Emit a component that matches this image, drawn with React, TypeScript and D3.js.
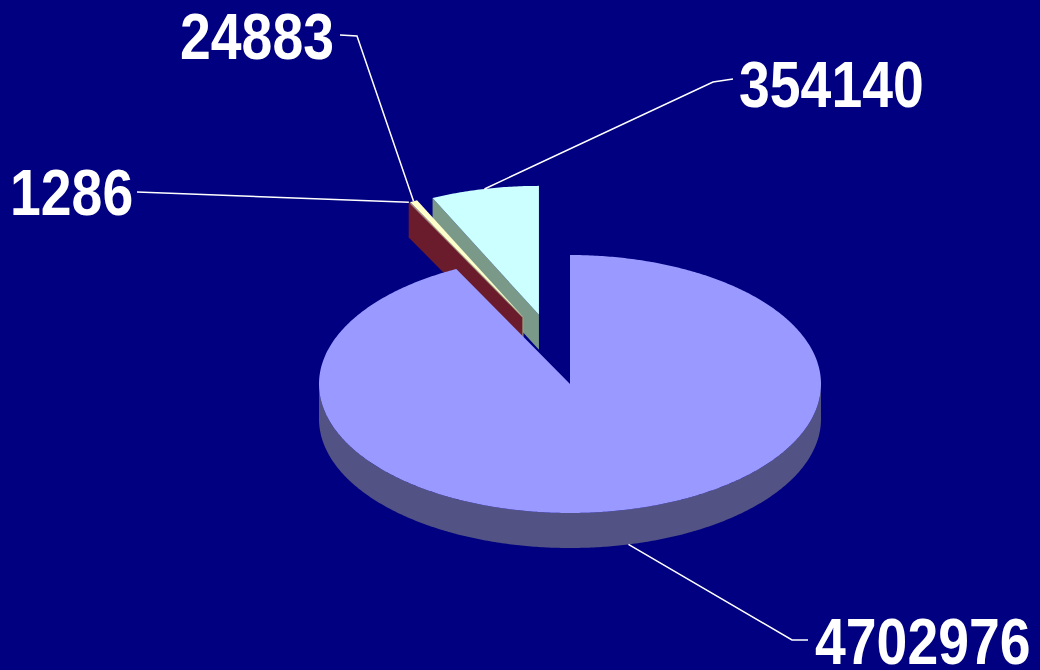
import React from "react";
import * as d3 from "d3";

// ---- data ----
const values: number[] = [4702976, 1286, 24883, 354140];
const labels: string[] = ["4702976", "1286", "24883", "354140"];
const topColors: string[] = ["#9999FF", "#993366", "#FFFFCC", "#CCFFFF"];
const sideColors: string[] = ["#525285", "#6a1c2c", "#a3a383", "#7a9988"];
const explode: number[] = [0, 0.55, 0.55, 0.55];

// ---- layout ----
const W = 1040;
const H = 670;
const CX = 570;
const CY = 384;
const RX = 251;
const RY = 129;
const DEPTH = 35;
const CHAR_W = 30.8;
const FONT_SIZE = 65;
// text position and leader start / elbow (per label)
const labelLayout = [
  { tx: 815, ty: 664, ax: 808, ay: 640, bx: 792, by: 640 },
  { tx: 10, ty: 215, ax: 137, ay: 192, bx: 137, by: 192 },
  { tx: 180, ty: 59, ax: 340, ay: 35, bx: 357, by: 36 },
  { tx: 739, ty: 107, ax: 733, ay: 79, bx: 713, by: 82 },
];

type Pt = [number, number];

function rim(ox: number, oy: number, a: number, dz = 0): Pt {
  return [ox + RX * Math.sin(a), oy - RY * Math.cos(a) + dz];
}
function arcPts(ox: number, oy: number, a0: number, a1: number, dz = 0): Pt[] {
  const n = Math.max(2, Math.ceil(Math.abs(a1 - a0) / 0.01));
  return d3.range(n + 1).map((k) => rim(ox, oy, a0 + ((a1 - a0) * k) / n, dz));
}
const line = d3.line<Pt>();

export default function App() {
  const arcs = d3.pie<number>().sort(null).value((d) => d)(values);

  // bisector of the exploded group
  const exploded = arcs.filter((_, i) => explode[i] > 0);
  const gStart = d3.min(exploded, (a) => a.startAngle) as number;
  const gEnd = d3.max(exploded, (a) => a.endAngle) as number;
  const groupMid = (gStart + gEnd) / 2;

  const slices = arcs.map((a, i) => {
    const mid = (a.startAngle + a.endAngle) / 2;
    const dir = (mid + groupMid) / 2;
    const ox = CX + explode[i] * RX * Math.sin(dir);
    const oy = CY - explode[i] * RY * Math.cos(dir);
    return { i, a0: a.startAngle, a1: a.endAngle, mid, ox, oy };
  });

  const order = [...slices].sort((p, q) => p.oy - q.oy);

  const shapes: React.ReactNode[] = [];
  order.forEach((s) => {
    const { i, a0, a1, ox, oy } = s;
    const side = sideColors[i];
    const w0 = Math.max(a0, Math.PI / 2);
    const w1 = Math.min(a1, (3 * Math.PI) / 2);
    if (w1 > w0) {
      const pts = [...arcPts(ox, oy, w0, w1), ...arcPts(ox, oy, w1, w0, DEPTH)];
      shapes.push(<path key={`w${i}`} d={line(pts) + "Z"} fill={side} />);
    }
    if (Math.sin(a0) < -1e-6) {
      const r = rim(ox, oy, a0);
      const pts: Pt[] = [[ox, oy], r, [r[0], r[1] + DEPTH], [ox, oy + DEPTH]];
      shapes.push(<path key={`s${i}`} d={line(pts) + "Z"} fill={side} />);
    }
    if (Math.sin(a1) > 1e-6) {
      const r = rim(ox, oy, a1);
      const pts: Pt[] = [[ox, oy], r, [r[0], r[1] + DEPTH], [ox, oy + DEPTH]];
      shapes.push(<path key={`e${i}`} d={line(pts) + "Z"} fill={side} />);
    }
    const top: Pt[] = [[ox, oy], ...arcPts(ox, oy, a0, a1)];
    shapes.push(<path key={`t${i}`} d={line(top) + "Z"} fill={topColors[i]} />);
  });

  const leaders = slices.map((s) => {
    const front = Math.cos(s.mid) < 0;
    const p = rim(s.ox, s.oy, s.mid, front ? DEPTH : 0);
    const L = labelLayout[s.i];
    const pts: Pt[] = [[L.ax, L.ay], [L.bx, L.by], p];
    return <path key={`l${s.i}`} d={line(pts) as string} fill="none" stroke="#ffffff" strokeWidth={1.5} />;
  });

  const texts = slices.map((s) => {
    const L = labelLayout[s.i];
    const txt = labels[s.i];
    return (
      <text
        key={`x${s.i}`}
        x={L.tx}
        y={L.ty}
        fill="#ffffff"
        fontFamily="'Liberation Sans Narrow', 'Arial Narrow', 'Liberation Sans', Arial, sans-serif"
        fontWeight="bold"
        fontSize={FONT_SIZE}
        textLength={txt.length * CHAR_W}
        lengthAdjust="spacingAndGlyphs"
      >
        {txt}
      </text>
    );
  });

  return (
    <svg
      width={W}
      height={H}
      style={{ position: "fixed", left: 0, top: 0, display: "block" }}
    >
      <rect x={0} y={0} width={W} height={H} fill="#000080" />
      {shapes}
      {leaders}
      {texts}
    </svg>
  );
}
